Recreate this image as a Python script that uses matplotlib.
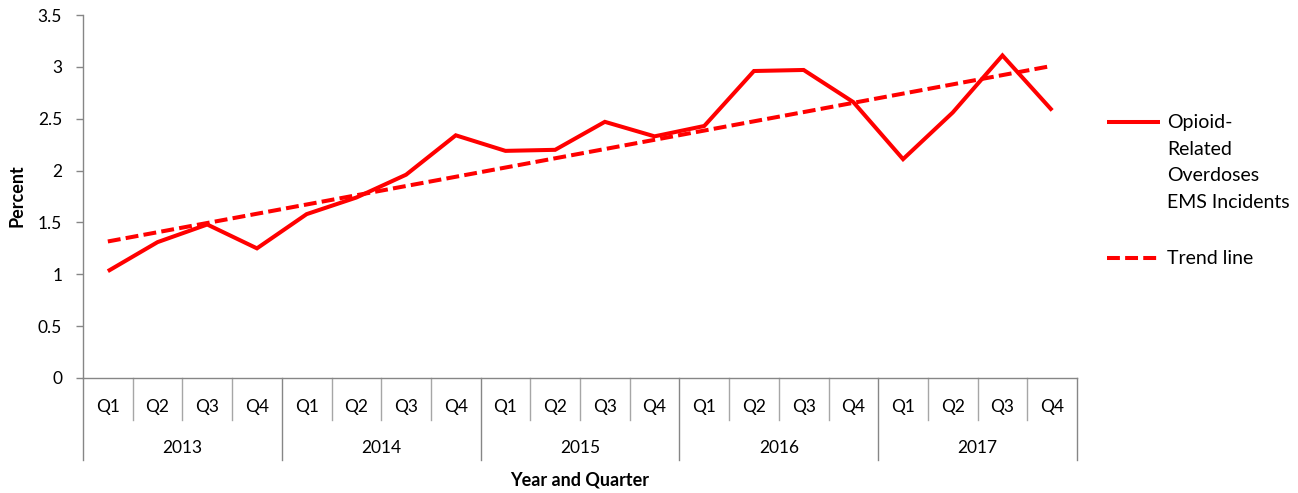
import numpy as np
import matplotlib
matplotlib.use("Agg")
import matplotlib.pyplot as plt
from matplotlib.lines import Line2D
import matplotlib.transforms as mtransforms

years = ["2013", "2014", "2015", "2016", "2017"]
quarters = ["Q1", "Q2", "Q3", "Q4"]
values = [1.03, 1.31, 1.48, 1.25,
          1.58, 1.74, 1.96, 2.34,
          2.19, 2.20, 2.47, 2.33,
          2.43, 2.96, 2.97, 2.66,
          2.11, 2.56, 3.11, 2.58]
series_label = "Opioid-\nRelated\nOverdoses\nEMS Incidents"
trend_label = "Trend line"
yticks = [0, 0.5, 1, 1.5, 2, 2.5, 3, 3.5]

plt.rcParams['font.family'] = ['Lato', 'DejaVu Sans']
RED = "#ff0000"
GRAY = "#868686"
FS = 12.5

W, H = 1298, 493
fig = plt.figure(figsize=(W / 100, H / 100), dpi=100)
ax = fig.add_axes([83 / W, (H - 378) / H, (1077 - 83) / W, (378 - 15) / H])

x = np.arange(len(values))
ax.plot(x, values, color=RED, lw=2.9, solid_joinstyle="miter", solid_capstyle="butt")
coef = np.polyfit(x, values, 1)
trend = np.polyval(coef, x)
ax.plot(x, trend, color=RED, lw=2.9, dashes=(3.2, 1.3), dash_capstyle="butt")

ax.set_xlim(-0.5, len(values) - 0.5)
ax.set_ylim(0, 3.5)
ax.set_yticks(yticks)
ax.set_yticklabels([f"{t:g}" for t in yticks], fontsize=FS)
ax.tick_params(axis="y", length=5, width=1, color=GRAY, pad=10, direction="out")
ax.set_xticks([])
for s in ["top", "right"]:
    ax.spines[s].set_visible(False)
for s in ["left", "bottom"]:
    ax.spines[s].set_color(GRAY)
    ax.spines[s].set_linewidth(1)

trans = mtransforms.blended_transform_factory(ax.transData, ax.transAxes)
ah = 378 - 15
q_bot = -42 / ah
y_bot = -82 / ah
for k in range(len(values) + 1):
    bottom = y_bot if k % 4 == 0 else q_bot
    ax.plot([k - 0.5, k - 0.5], [0, bottom], color="#a6a6a6" if k % 4 else GRAY,
            lw=1, transform=trans, clip_on=False)

for i in range(len(values)):
    ax.text(i, -29 / ah, quarters[i % 4], transform=trans, ha="center", va="center", fontsize=FS)
for j, yr in enumerate(years):
    ax.text(j * 4 + 1.5, -70 / ah, yr, transform=trans, ha="center", va="center", fontsize=FS)

ax.text(9.5, -102 / ah, "Year and Quarter", transform=trans, ha="center", va="center",
        fontsize=13, fontweight="bold")
fig.text(17 / W, (H - 196) / H, "Percent", rotation=90, ha="center", va="center",
         fontsize=13, fontweight="bold")

# legend
def fy(py):
    return (H - py) / H
fig.add_artist(Line2D([1107 / W, 1160 / W], [fy(122), fy(122)], color=RED, lw=2.9,
                      solid_capstyle="butt"))
fig.add_artist(Line2D([1107 / W, 1160 / W], [fy(258), fy(258)], color=RED, lw=2.9,
                      dashes=(3.2, 1.3), dash_capstyle="butt"))
fig.text(1167 / W, fy(114), series_label, ha="left", va="top", fontsize=14, linespacing=1.68)
fig.text(1167 / W, fy(258), trend_label, ha="left", va="center", fontsize=14)

fig.savefig("out.png", dpi=100)
